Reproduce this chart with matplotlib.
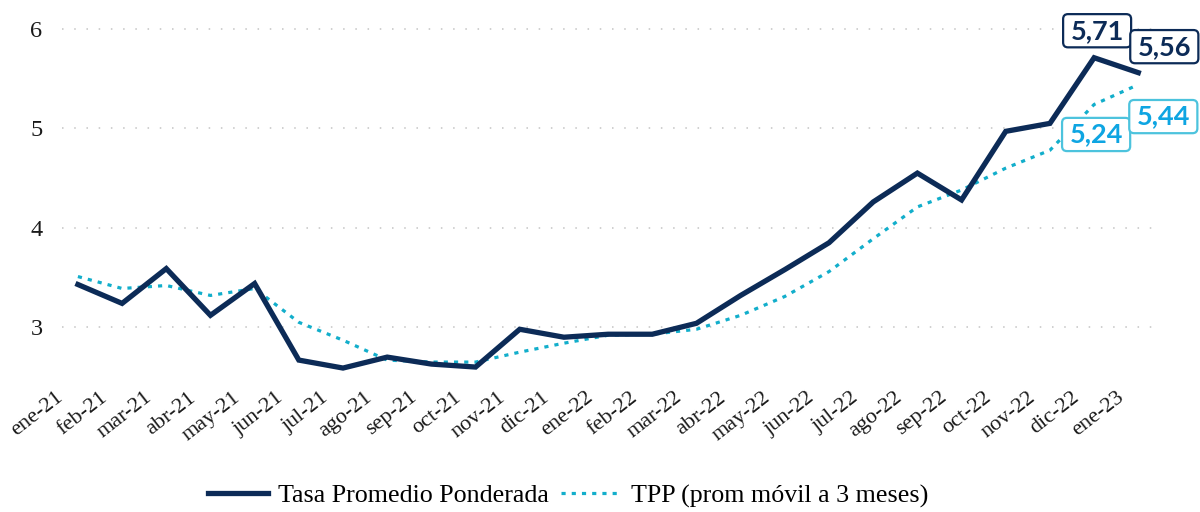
import matplotlib
matplotlib.use("Agg")
import matplotlib.pyplot as plt
import matplotlib.transforms as mtransforms
from matplotlib.patches import BoxStyle

months = ["ene-21", "feb-21", "mar-21", "abr-21", "may-21", "jun-21", "jul-21",
          "ago-21", "sep-21", "oct-21", "nov-21", "dic-21", "ene-22", "feb-22",
          "mar-22", "abr-22", "may-22", "jun-22", "jul-22", "ago-22", "sep-22",
          "oct-22", "nov-22", "dic-22", "ene-23"]
tpp = [3.43, 3.24, 3.59, 3.12, 3.44, 2.67, 2.59, 2.70, 2.63, 2.60, 2.98, 2.90,
       2.93, 2.93, 3.04, 3.32, 3.58, 3.85, 4.26, 4.55, 4.28, 4.97, 5.05, 5.71, 5.56]
tpp_ma3 = [3.51, 3.39, 3.42, 3.32, 3.39, 3.05, 2.87, 2.67, 2.65, 2.65, 2.75, 2.84,
           2.92, 2.93, 2.98, 3.12, 3.31, 3.56, 3.89, 4.21, 4.38, 4.60, 4.78, 5.24, 5.44]
yticks = [3, 4, 5, 6]
series_names = ["Tasa Promedio Ponderada", "TPP (prom móvil a 3 meses)"]

NAVY = "#0c2b57"
CYAN = "#12aecb"
LBLUE_TXT = "#0ea5e2"
LBLUE_EDGE = "#4cc3dd"

plt.rcParams["font.family"] = ["Liberation Serif", "DejaVu Serif"]

fig = plt.figure(figsize=(12, 5.12), dpi=100)
ax = fig.add_axes([62 / 1200, 1 - 377 / 512, (1152 - 62) / 1200, (377 - 9) / 512])

x = list(range(len(months)))
l1, = ax.plot(x, tpp, color=NAVY, lw=3.8, solid_joinstyle="miter", zorder=3)
l2, = ax.plot(x, tpp_ma3, color=CYAN, lw=2.3, linestyle=(0, (1.3, 1.9)),
              dash_capstyle="butt", zorder=2)

ax.set_xlim(-0.36, len(months) - 1 + 0.31)
ax.set_ylim(2.5, 6.2)
ax.set_yticks(yticks)
ax.set_yticklabels([str(v) for v in yticks], fontsize=17.5, color="#1a1a1a")
ax.yaxis.grid(True, color="#c4c4c4", lw=1.1, linestyle=(0, (1, 7)))
ax.xaxis.grid(False)
for s in ax.spines.values():
    s.set_visible(False)
ax.tick_params(axis="both", length=0)
ax.tick_params(axis="y", pad=14)

ax.set_xticks(x)
ax.set_xticklabels(months, rotation=38, ha="right", va="top", fontsize=16,
                   color="#1a1a1a")
ax.tick_params(axis="x", pad=8)
offset = mtransforms.ScaledTranslation(-11 / 100, 0, fig.dpi_scale_trans)
for lab in ax.get_xticklabels():
    lab.set_transform(lab.get_transform() + offset)


def label_box(x0, y0, width, height, mutation_size):
    hx = 0.27 * mutation_size
    hy = 0.17 * mutation_size
    return BoxStyle.Round(pad=0, rounding_size=0.18)(
        x0 - hx, y0 - hy, width + 2 * hx, height + 2 * hy, mutation_size)


ann_font = ["Lato", "DejaVu Sans"]


def label(i, vals, text, dx, dy, tcol, ecol):
    ax.annotate(text, xy=(i, vals[i]), xytext=(dx, dy), textcoords="offset pixels",
                ha="center", va="center", fontsize=19.5, fontweight="bold",
                family=ann_font, color=tcol, annotation_clip=False, zorder=5,
                bbox=dict(boxstyle=label_box, fc="white", ec=ecol, lw=1.6))


n = len(months)
label(n - 2, tpp, "5,71", 3, 27, NAVY, NAVY)
label(n - 1, tpp, "5,56", 26, 26, NAVY, NAVY)
label(n - 2, tpp_ma3, "5,24", 2, -30, LBLUE_TXT, LBLUE_EDGE)
label(n - 1, tpp_ma3, "5,44", 25, -32, LBLUE_TXT, LBLUE_EDGE)

fig.legend([l1, l2], series_names, loc="center", bbox_to_anchor=(568 / 1200, 1 - 496 / 512),
           ncol=2, frameon=False, fontsize=18.7, handlelength=2.3, handletextpad=0.4,
           columnspacing=0.45, borderaxespad=0)

fig.savefig("out.png", dpi=100, facecolor="white")
